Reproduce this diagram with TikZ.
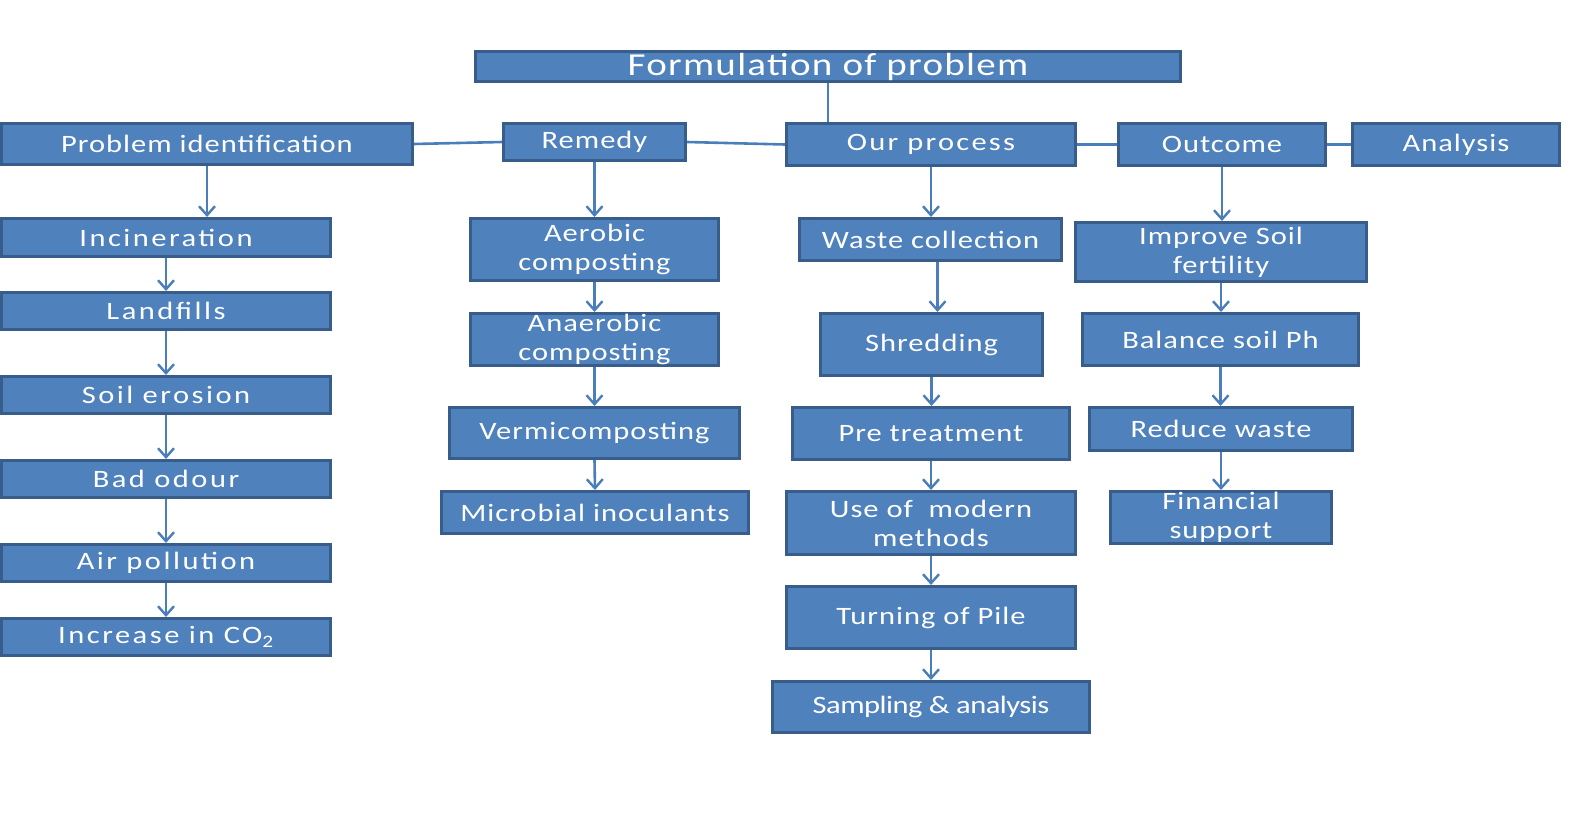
\documentclass[tikz,border=0pt]{standalone}
\usepackage{fontspec}
\setmainfont{Carlito}[FakeStretch=1.22,LetterSpace=4]
\usetikzlibrary{arrows.meta}
\definecolor{boxfill}{HTML}{4F81BD}
\definecolor{boxline}{HTML}{385D8A}
\definecolor{conn}{HTML}{4A7EBB}
\tikzset{
  box/.style={rectangle, fill=boxfill, draw=boxline, line width=3bp, text=white,
    inner sep=0pt, align=center, font=\fontsize{25bp}{29bp}\selectfont},
  bigbox/.style={box, font=\fontsize{32bp}{34bp}\selectfont},
  widebox/.style={box, font=\fontsize{25bp}{29bp}\selectfont\addfontfeature{LetterSpace=10}},
  ourbox/.style={box, font=\fontsize{25bp}{29bp}\selectfont\addfontfeature{LetterSpace=9}},
  narrowbox/.style={box, font=\fontsize{25bp}{29bp}\selectfont\addfontfeature{LetterSpace=-2}},
  link/.style={draw=conn, line width=2.6bp},
  arr/.style={link, -{Straight Barb[length=9bp,width=16bp,line width=2.4bp]}},
}
\begin{document}
\begin{tikzpicture}[x=1bp,y=-1bp]
\useasboundingbox (0,0) rectangle (1578,829);
% top
\node[bigbox, minimum width=705bp, minimum height=30bp] (form) at (828,66.5) {Formulation of problem};
\node[box, minimum width=411bp, minimum height=41bp] (pi) at (207,144) {Problem identification};
\node[box, minimum width=182bp, minimum height=37bp] (rem) at (594.5,142) {Remedy};
\node[ourbox, minimum width=289bp, minimum height=42bp] (ourp) at (931,144.5) {Our process};
\node[box, minimum width=207bp, minimum height=42bp] (outc) at (1222,144.5) {Outcome};
\node[box, minimum width=207bp, minimum height=42bp] (anal) at (1456,144.5) {Analysis};
% left column
\node[widebox, minimum width=329bp, minimum height=38bp] (inc) at (166,237.5) {Incineration};
\node[widebox, minimum width=329bp, minimum height=37bp] (land) at (166,311) {Landfills};
\node[widebox, minimum width=329bp, minimum height=37bp] (soil) at (166,395) {Soil erosion};
\node[widebox, minimum width=329bp, minimum height=37bp] (bad) at (166,479) {Bad odour};
\node[widebox, minimum width=329bp, minimum height=37bp] (air) at (166,563) {Air pollution};
\node[widebox, minimum width=329bp, minimum height=37bp] (co2) at (166,637) {Increase in CO\textsubscript{2}};
% remedy column
\node[box, minimum width=248bp, minimum height=62bp] (aer) at (594.5,249.5) {Aerobic\\composting};
\node[box, minimum width=248bp, minimum height=52bp] (anae) at (594.5,339.5) {Anaerobic\\composting};
\node[box, minimum width=290bp, minimum height=51bp] (verm) at (594.5,433) {Vermicomposting};
\node[box, minimum width=307bp, minimum height=42bp] (micr) at (595,512.5) {Microbial inoculants};
% process column
\node[box, minimum width=262bp, minimum height=42bp] (wc) at (930.5,239.5) {Waste collection};
\node[box, minimum width=222bp, minimum height=62bp] (shr) at (931.5,344.5) {Shredding};
\node[box, minimum width=277bp, minimum height=52bp] (pre) at (931,433.5) {Pre treatment};
\node[box, minimum width=289bp, minimum height=63bp] (use) at (931,523) {Use of~ modern\\methods};
\node[box, minimum width=289bp, minimum height=62bp] (turn) at (931,617.5) {Turning of Pile};
\node[narrowbox, minimum width=317bp, minimum height=51bp] (samp) at (931,707) {Sampling \& analysis};
% outcome column
\node[box, minimum width=291bp, minimum height=59bp] (imp) at (1221,252) {Improve Soil\\fertility};
\node[box, minimum width=276bp, minimum height=52bp] (bal) at (1220.5,339.5) {Balance soil Ph};
\node[box, minimum width=263bp, minimum height=43bp] (red) at (1221,429) {Reduce waste};
\node[box, minimum width=221bp, minimum height=52bp] (fin) at (1221,517.5) {Financial\\support};
% horizontal links
\draw[link] (form.south) -- (form.south |- ourp.north);
\draw[link] (pi.east) -- (rem.west);
\draw[link] (rem.east) -- (ourp.west);
\draw[link] (ourp.east) -- (outc.west);
\draw[link] (outc.east) -- (anal.west);
% left arrows
\draw[arr] (pi.south) -- (pi.south |- inc.north);
\draw[arr] (inc.south) -- (land.north);
\draw[arr] (land.south) -- (soil.north);
\draw[arr] (soil.south) -- (bad.north);
\draw[arr] (bad.south) -- (air.north);
\draw[arr] (air.south) -- (co2.north);
% remedy arrows
\draw[arr] (rem.south) -- (aer.north);
\draw[arr] (aer.south) -- (anae.north);
\draw[arr] (anae.south) -- (verm.north);
\draw[arr] (verm.south) -- (micr.north);
% process arrows
\draw[arr] (ourp.south) -- (ourp.south |- wc.north);
\draw[arr] ([xshift=7bp]wc.south) -- ([xshift=7bp]wc.south |- shr.north);
\draw[arr] (shr.south) -- (shr.south |- pre.north);
\draw[arr] (pre.south) -- (use.north);
\draw[arr] (use.south) -- (turn.north);
\draw[arr] (turn.south) -- (samp.north);
% outcome arrows
\draw[arr] (outc.south) -- (outc.south |- imp.north);
\draw[arr] (imp.south) -- (imp.south |- bal.north);
\draw[arr] (bal.south) -- (bal.south |- red.north);
\draw[arr] (red.south) -- (red.south |- fin.north);
\end{tikzpicture}
\end{document}
